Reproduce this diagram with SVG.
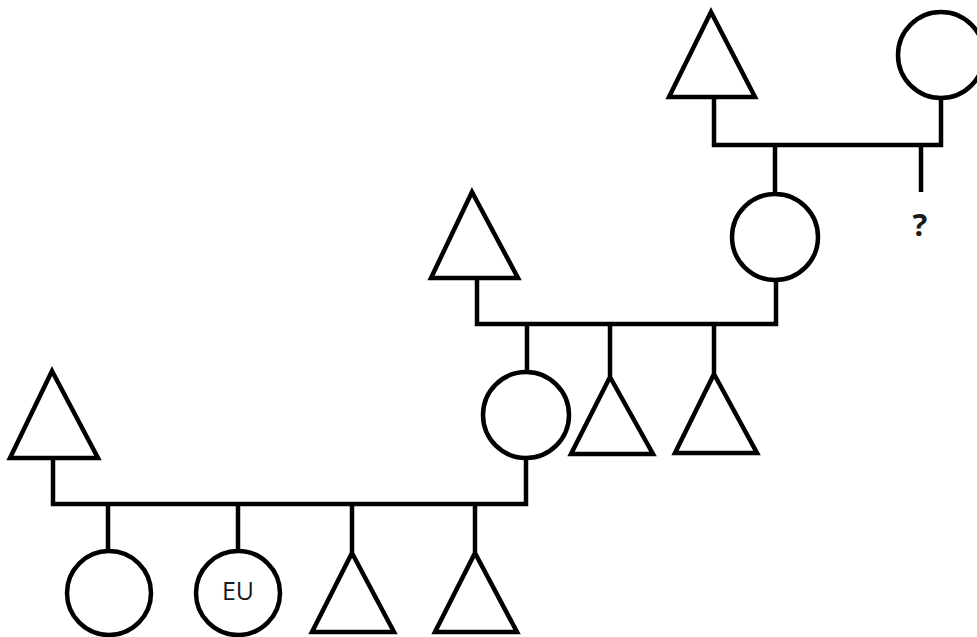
<svg xmlns="http://www.w3.org/2000/svg" width="977" height="637" viewBox="0 0 977 637">
  <style>
    .male, .female { fill: #ffffff; stroke: #000000; stroke-width: 4.5; stroke-linejoin: miter; }
    .link { fill: none; stroke: #000000; stroke-width: 4.5; stroke-linejoin: miter; stroke-linecap: butt; }
    .label { font-family: "Open Sans", "Liberation Sans", sans-serif; fill: #1a1a1a; text-anchor: middle; }
  </style>
  <rect width="977" height="637" fill="#ffffff"/>

  <!-- connectors -->
  <g id="connectors">
    <!-- generation 1 couple and children -->
    <path class="link" d="M714 97 V145 H941 V98"/>
    <path class="link" d="M775 145 V194"/>
    <path class="link" d="M921 145 V192"/>
    <!-- generation 2 couple and children -->
    <path class="link" d="M477 278 V324 H776 V281"/>
    <path class="link" d="M527 324 V373"/>
    <path class="link" d="M610 324 V376"/>
    <path class="link" d="M714 324 V373"/>
    <!-- generation 3 couple and children -->
    <path class="link" d="M53 458 V504 H526 V458"/>
    <path class="link" d="M108 504 V552"/>
    <path class="link" d="M238 504 V552"/>
    <path class="link" d="M352 504 V552"/>
    <path class="link" d="M475 504 V552"/>
  </g>

  <!-- generation 1 -->
  <g id="g1-father"><polygon class="male" points="711,12 755,97 669,97"/></g>
  <g id="g1-mother"><circle class="female" cx="941" cy="55" r="43"/></g>
  <g id="g1-unknown"><text class="label" x="920" y="236" font-size="31" font-weight="bold">?</text></g>

  <!-- generation 2 -->
  <g id="g2-father"><polygon class="male" points="472,192 518,278 431,278"/></g>
  <g id="g2-mother"><circle class="female" cx="775" cy="237" r="43"/></g>
  <g id="g2-daughter"><circle class="female" cx="526" cy="415" r="43"/></g>
  <g id="g2-son1"><polygon class="male" points="610,377 653,454 571,454"/></g>
  <g id="g2-son2"><polygon class="male" points="714,374 757,453 675,453"/></g>

  <!-- generation 3 -->
  <g id="g3-father"><polygon class="male" points="52,371 98,458 10,458"/></g>
  <g id="g3-daughter"><circle class="female" cx="109" cy="593" r="42"/></g>
  <g id="g3-ego">
    <circle class="female" cx="238" cy="593" r="42"/>
    <text class="label" x="238" y="600" font-size="25">EU</text>
  </g>
  <g id="g3-son1"><polygon class="male" points="352,553 394,632 312,632"/></g>
  <g id="g3-son2"><polygon class="male" points="475,553 517,632 435,632"/></g>
</svg>
